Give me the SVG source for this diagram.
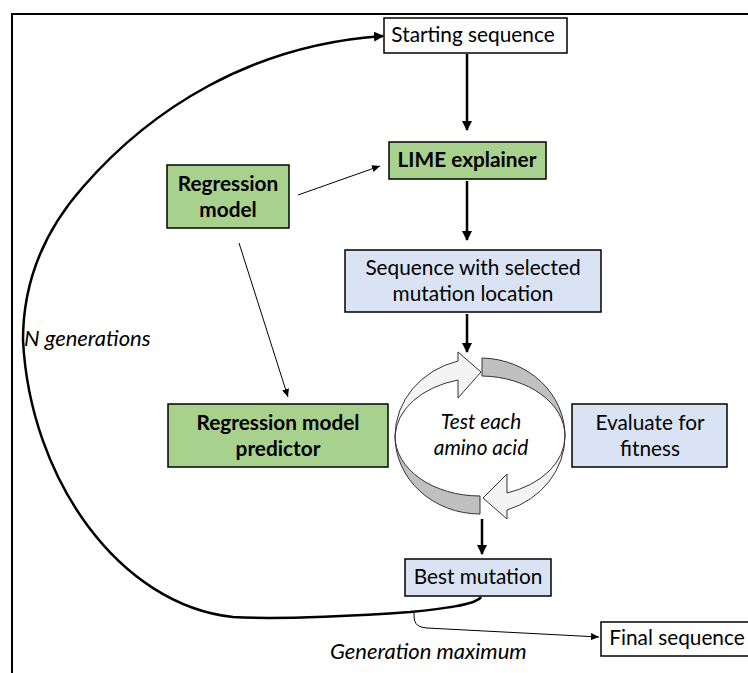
<svg xmlns="http://www.w3.org/2000/svg" width="748" height="673" viewBox="0 0 748 673">
<style>
.box{stroke:#000;stroke-width:1.5}
.w{fill:#fff}.g{fill:#a9d18e}.b{fill:#dae3f3}
text{font-family:Lato,"Open Sans","Liberation Sans",sans-serif;font-size:20.8px;fill:#000;text-anchor:middle}
.bold{font-weight:bold}
.it{font-style:italic}
.lab{font-style:italic;font-size:22px;text-anchor:start}
.thick{fill:none;stroke:#000;stroke-width:2.5}
.thin{fill:none;stroke:#000;stroke-width:1}
.front{fill:#f4f4f4;stroke:#333;stroke-width:1}
.back{fill:#c0c0c0;stroke:#333;stroke-width:1}
</style>
<defs>
<marker id="ah" markerWidth="10" markerHeight="10" refX="9" refY="5" orient="auto" markerUnits="userSpaceOnUse"><path d="M0,0 L10,5 L0,10 z" fill="#000"/></marker>
<marker id="ahs" markerWidth="8" markerHeight="7" refX="8" refY="3.5" orient="auto" markerUnits="userSpaceOnUse"><path d="M0,0 L8,3.5 L0,7 z" fill="#000"/></marker>
</defs>
<rect x="0" y="0" width="748" height="673" fill="#fff"/>
<path d="M12,673 L12,14 L748,14" fill="none" stroke="#000" stroke-width="2"/>

<g id="connectors">
<path class="thick" d="M467,54 L467,130" marker-end="url(#ah)"/>
<path class="thick" d="M467,181 L467,240" marker-end="url(#ah)"/>
<path class="thick" d="M467,314 L467,352" marker-end="url(#ah)"/>
<path class="thick" d="M482,519 L482,554" marker-end="url(#ah)"/>
<path class="thin" d="M298,195 L380,166" marker-end="url(#ahs)"/>
<path class="thin" d="M239,243 L288,397" marker-end="url(#ahs)"/>
<path class="thick" d="M481,597 C476,605 440,609 410,612 C370,615 280,620 233,617 C120,605 30,480 23,340 C23,280 45,230 83,187 C150,110 250,45 383,36" marker-end="url(#ah)"/>
<path class="thin" d="M414,613 C414,622 415,627 427,628 L599,637" marker-end="url(#ahs)"/>
</g>

<g id="cycle">
<path class="back" d="M482,358 A85,78 0 0 1 565,436 A85,60 0 0 0 482,376 Z"/>
<path class="back" d="M480,514 A85,78 0 0 1 395,436 A85,60 0 0 0 480,496 Z"/>
<path class="front" d="M395,436 A85,78 0 0 1 458,361 L458,352 L481,372 L458,398 L458,380 A85,60 0 0 0 395,436 Z"/>
<path class="front" d="M565,436 A85,78 0 0 1 507,510 L507,519 L483,498 L507,474 L507,493 A85,60 0 0 0 565,436 Z"/>
<text class="it" x="481" y="429" font-size="21">Test each</text>
<text class="it" x="481" y="455" font-size="21">amino acid</text>
</g>

<g id="start"><rect class="box w" x="384" y="18" width="183" height="35"/><text x="473" y="42">Starting sequence</text></g>
<g id="lime"><rect class="box g" x="389" y="142" width="157" height="37"/><text class="bold" x="467" y="167">LIME explainer</text></g>
<g id="regmodel"><rect class="box g" x="167" y="165" width="122" height="63"/><text class="bold" x="228" y="191">Regression</text><text class="bold" x="228" y="217">model</text></g>
<g id="seqsel"><rect class="box b" x="345" y="250" width="256" height="62"/><text x="473" y="275">Sequence with selected</text><text x="473" y="301">mutation location</text></g>
<g id="predictor"><rect class="box g" x="168" y="404" width="220" height="63"/><text class="bold" x="278" y="430">Regression model</text><text class="bold" x="278" y="456">predictor</text></g>
<g id="evaluate"><rect class="box b" x="572" y="404" width="155" height="63"/><text x="650" y="430">Evaluate for</text><text x="650" y="456">fitness</text></g>
<g id="best"><rect class="box b" x="405" y="559" width="146" height="37"/><text x="478" y="584">Best mutation</text></g>
<g id="final"><rect class="box w" x="601" y="622" width="150" height="34"/><text x="677" y="645">Final sequence</text></g>

<text class="lab" x="24" y="346">N generations</text>
<text class="lab" x="330" y="659">Generation maximum</text>
</svg>
